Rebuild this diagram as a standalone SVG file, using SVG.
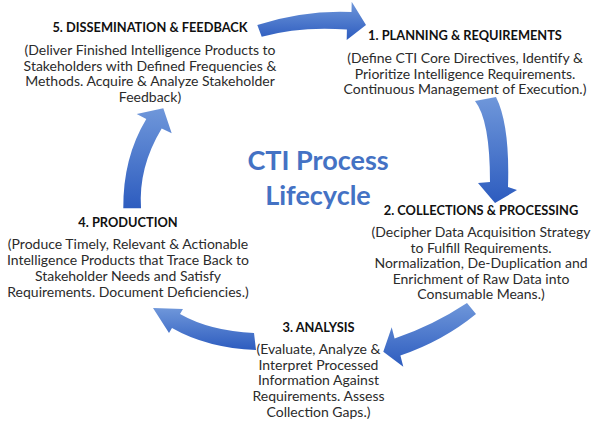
<svg xmlns="http://www.w3.org/2000/svg" width="600" height="431" viewBox="0 0 600 431">
<defs>
<linearGradient id="ag" x1="0" y1="0" x2="0" y2="1">
<stop offset="0" stop-color="#6F97DA"/>
<stop offset="1" stop-color="#2D5CBF"/>
</linearGradient>
<style>
.t{font-family:Lato,"Liberation Sans",sans-serif;font-weight:bold;font-size:12.8px;fill:#111;text-anchor:middle}
.b{font-family:Lato,"Liberation Sans",sans-serif;font-size:14px;fill:#2b2b2b;text-anchor:middle}
.c{font-family:Lato,"Liberation Sans",sans-serif;font-weight:bold;font-size:27px;fill:#4472C4;text-anchor:middle}
.arr{fill:url(#ag);stroke:none}
</style>
</defs>
<rect width="600" height="431" fill="#fff"/>
<g id="connectors">
<path class="arr" d="M257.3,25 Q305,10 351.5,12.1 L351.7,1.7 L366,25 L346.7,40 L346.9,29.5 Q300,26 261.7,36.7 Z"/>
<path class="arr" d="M475,101 Q490,120 490,182 L478,183 L495,203 L517,190 L508,187 Q510,125 496,97 Z"/>
<path class="arr" d="M467,303 Q432.6,325.7 394.6,338.5 L391.7,327.3 L383.3,351.7 L403.3,366.7 L400.4,355.5 Q443,341 476,314 Z"/>
<path class="arr" d="M153,308 L183,309 L180,314 Q210,331 254,333 L256,350 Q207,348 172,328 L169,333 Z"/>
<path class="arr" d="M123.3,208.3 Q122.9,157.7 146.3,119 L136.7,114 L163.3,108.3 L171.7,133.3 L161.7,128.4 Q138.3,167 141,208.3 Z"/>
</g>
<g id="center-title">
<text class="c" x="318" y="170">CTI Process</text>
<text class="c" x="318" y="205">Lifecycle</text>
</g>
<g id="node-1">
<text class="t" x="465" y="40">1. PLANNING &amp; REQUIREMENTS</text>
<text class="b" x="465" y="63">(Define CTI Core Directives, Identify &amp;</text>
<text class="b" x="465" y="78.5">Prioritize Intelligence Requirements.</text>
<text class="b" x="465" y="94">Continuous Management of Execution.)</text>
</g>
<g id="node-2">
<text class="t" x="481" y="215">2. COLLECTIONS &amp; PROCESSING</text>
<text class="b" x="481" y="237">(Decipher Data Acquisition Strategy</text>
<text class="b" x="481" y="252.5">to Fulfill Requirements.</text>
<text class="b" x="481" y="268">Normalization, De-Duplication and</text>
<text class="b" x="481" y="283.5">Enrichment of Raw Data into</text>
<text class="b" x="481" y="299">Consumable Means.)</text>
</g>
<g id="node-3">
<text class="t" x="318.5" y="332">3. ANALYSIS</text>
<text class="b" x="318.5" y="354">(Evaluate, Analyze &amp;</text>
<text class="b" x="318.5" y="369.5">Interpret Processed</text>
<text class="b" x="318.5" y="385">Information Against</text>
<text class="b" x="318.5" y="400.5">Requirements. Assess</text>
<text class="b" x="318.5" y="416.5">Collection Gaps.)</text>
</g>
<g id="node-4">
<text class="t" x="128" y="227">4. PRODUCTION</text>
<text class="b" x="128" y="249">(Produce Timely, Relevant &amp; Actionable</text>
<text class="b" x="128" y="265">Intelligence Products that Trace Back to</text>
<text class="b" x="128" y="281">Stakeholder Needs and Satisfy</text>
<text class="b" x="128" y="297">Requirements. Document Deficiencies.)</text>
</g>
<g id="node-5">
<text class="t" x="150" y="32">5. DISSEMINATION &amp; FEEDBACK</text>
<text class="b" x="150" y="55">(Deliver Finished Intelligence Products to</text>
<text class="b" x="150" y="70.5">Stakeholders with Defined Frequencies &amp;</text>
<text class="b" x="150" y="86">Methods. Acquire &amp; Analyze Stakeholder</text>
<text class="b" x="150" y="101.5">Feedback)</text>
</g>
</svg>
